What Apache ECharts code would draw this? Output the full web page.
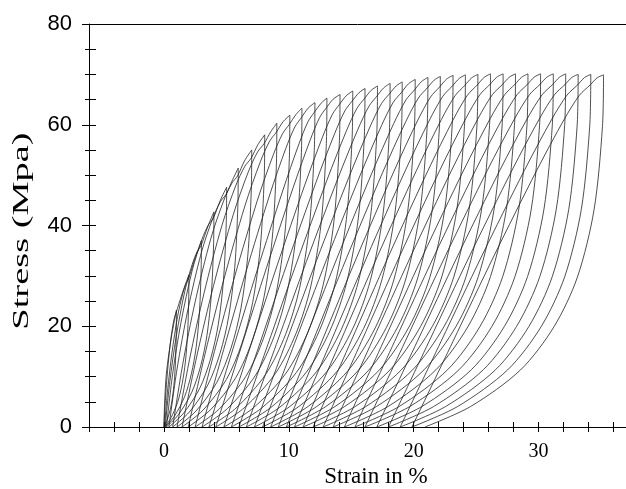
<!DOCTYPE html>
<html><head><meta charset="utf-8">
<script src="https://cdn.jsdelivr.net/npm/echarts@6/dist/echarts.min.js"></script>
<style>html,body{margin:0;padding:0;background:#fff}#c{width:626px;height:489px}</style>
</head><body><div id="c"></div>
<script>
// peak strain (%) of each loading cycle, read from the caps along the top envelope
const peakStrain = [1.0,2.0,3.0,4.0,5.02,5.95,7.03,8.07,9.04,10.08,11.05,12.09,13.05,14.1,15.12,16.1,17.1,18.11,19.08,20.12,21.14,22.13,23.15,24.14,25.14,26.15,27.16,28.15,29.15,30.16,31.18,32.17,33.17,34.18,35.2];
// peak stress (MPa) of each cycle
const peakStress = [23.2,30.2,37.0,42.7,47.6,51.4,55.0,58.0,60.3,61.9,63.3,64.4,65.3,66.0,66.7,67.2,67.7,68.2,68.5,69.0,69.4,69.6,69.8,69.9,70.0,70.1,70.1,70.1,70.1,70.1,70.1,70.1,70.0,70.0,69.9];
// residual strain (%) at zero stress after each unloading
const residualStrain = [0,0.05,0.1,0.2,0.4,0.7,1.05,1.45,1.95,2.5,3.05,3.6,4.15,4.8,5.4,6.0,6.6,7.25,7.9,8.55,9.15,9.8,10.45,11.15,11.95,12.75,13.55,14.45,15.3,16.1,17.05,17.98,18.92,19.86,20.9];
// first (virgin) loading branch read from the left edge of the envelope
const firstLoadStrain = [0,0.05,0.2,0.6,1];
const firstLoadStress = [0,4.5,10.7,17.9,23.2];
// normalised unloading branch shape (stress fraction, strain fraction) traced on the last cycle
const unloadS = [1,0.853,0.617,0.426,0.285,0.162,0.058,0];
const unloadU = [1,0.994,0.947,0.854,0.723,0.535,0.255,0];
// normalised reloading branch shapes: early cycles follow the curved envelope, late cycles are almost straight
const reloadS = [0,0.25,0.5,0.75,0.9,0.97,1];
const reloadUEarly = [0,0.13,0.31,0.55,0.76,0.9,1];
const reloadULate = [0,0.23,0.46,0.7,0.855,0.94,1];
const xLabelValues = [0,10,20,30];
const yLabelValues = [0,20,40,60,80];

const lineStyle = {color:'#222', width:0.8};
const series = [];
for (let j = 0; j < peakStrain.length; j++) {
  let load = [];
  if (j === 0) {
    for (let i = 0; i < firstLoadStrain.length; i++) load.push([firstLoadStrain[i], firstLoadStress[i]]);
  } else {
    const e0 = residualStrain[j-1];
    const tE = peakStrain[j-1] - 0.05;
    const tS = peakStress[j-1] * 0.97;
    const w = Math.min(1, Math.max(0, (j - 4) / 8));
    for (let i = 0; i < reloadS.length; i++) {
      const u = reloadUEarly[i] * (1 - w) + reloadULate[i] * w;
      load.push([e0 + u*(tE-e0), reloadS[i]*tS]);
    }
    load.push([peakStrain[j-1] + 0.5, (tS + peakStress[j]) / 2 + 0.4]);
    load.push([peakStrain[j], peakStress[j]]);
  }
  const unload = [];
  const er = residualStrain[j];
  for (let i = 0; i < unloadS.length; i++) unload.push([er + unloadU[i]*(peakStrain[j]-er), unloadS[i]*peakStress[j]]);
  series.push({type:'line', data:load, smooth:0.3, showSymbol:false, silent:true, lineStyle:lineStyle, xAxisIndex:0, yAxisIndex:0});
  series.push({type:'line', data:unload, smooth:0.3, showSymbol:false, silent:true, lineStyle:lineStyle, xAxisIndex:0, yAxisIndex:0});
}

const axisLineStyle = {color:'#000', width:1};
const chart = echarts.init(document.getElementById('c'), null, {renderer:'canvas'});
chart.setOption({
  animation:false,
  backgroundColor:'#fff',
  grid:{left:89, right:0, top:24, bottom:62, containLabel:false, outerBoundsMode:'none'},
  xAxis:[
    {type:'value', min:-6, max:37, interval:2, position:'bottom',
     axisLine:{show:true, onZero:false, lineStyle:axisLineStyle}, axisTick:{show:true, length:5, lineStyle:axisLineStyle},
     splitLine:{show:false},
     axisLabel:{formatter:v => xLabelValues.indexOf(v) >= 0 ? String(v) : '', fontFamily:'Liberation Serif', fontSize:20, color:'#000', margin:15}},
    {type:'value', min:-6, max:37, interval:2, position:'bottom',
     axisLine:{show:false, onZero:false}, axisTick:{show:true, inside:true, length:5, lineStyle:axisLineStyle},
     axisLabel:{show:false}, splitLine:{show:false}},
    {type:'value', min:-6, max:37, position:'top',
     axisLine:{show:true, onZero:false, lineStyle:axisLineStyle}, axisTick:{show:false}, axisLabel:{show:false}, splitLine:{show:false}}
  ],
  yAxis:[
    {type:'value', min:0, max:80, interval:20, position:'left',
     axisLine:{show:true, onZero:false, lineStyle:axisLineStyle}, axisTick:{show:true, length:7, lineStyle:axisLineStyle},
     minorTick:{show:true, splitNumber:4, length:4, lineStyle:axisLineStyle},
     splitLine:{show:false}, minorSplitLine:{show:false},
     axisLabel:{formatter:v => yLabelValues.indexOf(v) >= 0 ? String(v) : '', fontFamily:'Liberation Sans', fontSize:22, color:'#000', margin:17}},
    {type:'value', min:0, max:80, interval:20, position:'left',
     axisLine:{show:false, onZero:false}, axisTick:{show:true, inside:true, length:7, lineStyle:axisLineStyle},
     minorTick:{show:true, splitNumber:4, length:7, lineStyle:axisLineStyle},
     axisLabel:{show:false}, splitLine:{show:false}, minorSplitLine:{show:false}}
  ],
  graphic:[
    {type:'text', x:22, y:231, rotation:Math.PI/2, scaleX:1.6,
     style:{text:'Stress (Mpa)', font:'24px "Liberation Serif"', fill:'#000', align:'center', verticalAlign:'middle'}},
    {type:'text', x:376, y:477,
     style:{text:'Strain in %', font:'23px "Liberation Serif"', fill:'#000', align:'center', verticalAlign:'middle'}}
  ],
  series:series
});
</script></body></html>
